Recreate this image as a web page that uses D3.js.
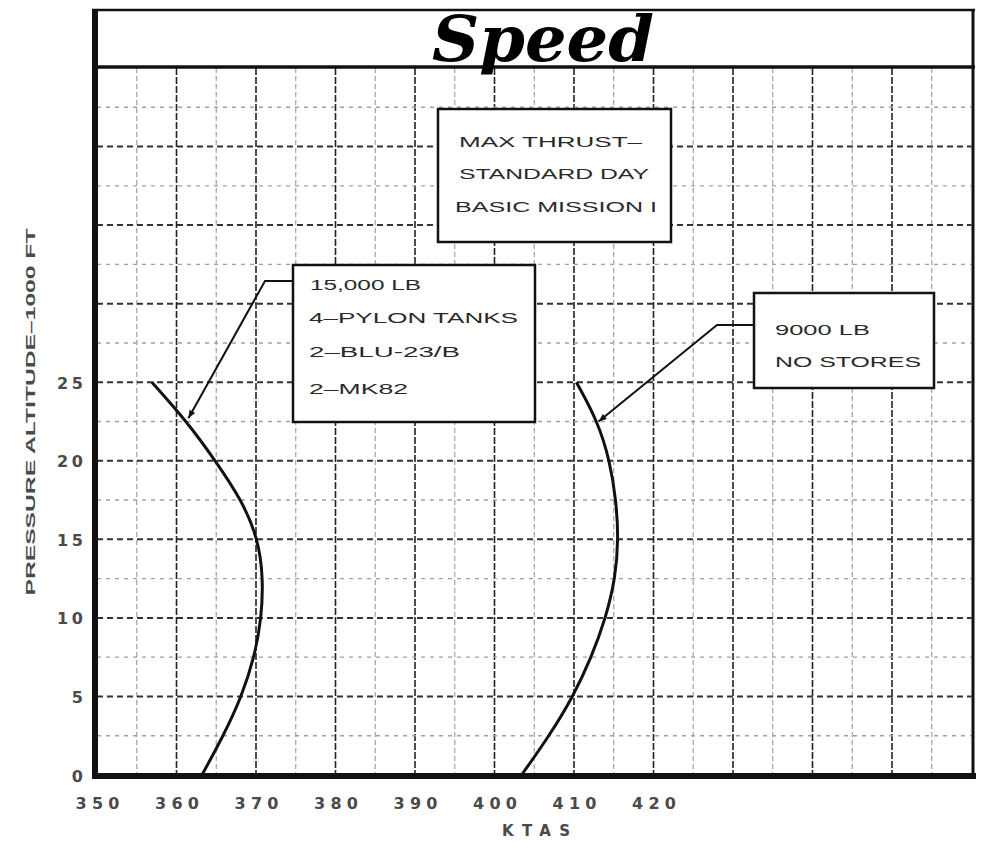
<!DOCTYPE html>
<html>
<head>
<meta charset="utf-8">
<script src="https://cdn.jsdelivr.net/npm/d3@7"></script>
<style>
  html, body { margin: 0; padding: 0; background: #fff; }
  svg { display: block; }
</style>
</head>
<body>
<div id="chart"></div>
<script>
// ---------- data ----------
const altitudes = [0, 2.5, 5, 7.5, 10, 12.5, 15, 17.5, 20, 22.5, 25];          // 1000 ft
const speed15000 = [363.2, 365.9, 368.2, 369.8, 370.7, 370.9, 370.3, 368.2, 364.9, 361.3, 356.9]; // KTAS
const speed9000  = [403.4, 406.9, 409.9, 412.2, 414.0, 415.2, 415.6, 415.3, 414.5, 413.0, 410.3]; // KTAS
const xTickValues = [350, 360, 370, 380, 390, 400, 410, 420];
const yTickValues = [0, 5, 10, 15, 20, 25];
const titleText = "Speed";
const xAxisTitle = "KTAS";
const yAxisTitle = "PRESSURE ALTITUDE–1000 FT";
const noteLines = ["MAX THRUST–", "STANDARD DAY", "BASIC MISSION I"];
const heavyLines = ["15,000 LB", "4–PYLON TANKS", "2–BLU-23/B", "2–MK82"];
const lightLines = ["9000 LB", "NO STORES"];

// ---------- layout ----------
const W = 987, H = 849;
const svg = d3.select("#chart").append("svg").attr("width", W).attr("height", H);
svg.append("rect").attr("width", W).attr("height", H).attr("fill", "#fff");

const x = d3.scaleLinear().domain([350, 460]).range([97, 971.5]);
const y = d3.scaleLinear().domain([0, 45]).range([775, 68]);

const ink = "#111";
const plotTop = 68, plotBottom = 775;

// grid lines
const vMinor = d3.range(355, 460, 10);
const vMajor = d3.range(360, 460, 10);
const hMinor = d3.range(2.5, 45, 5);
const hMajor = d3.range(5, 45, 5);

const grid = svg.append("g");
grid.selectAll(".vmin").data(vMinor).join("line")
  .attr("x1", d => x(d)).attr("x2", d => x(d))
  .attr("y1", plotTop).attr("y2", plotBottom)
  .attr("stroke", "#a0a0a0").attr("stroke-width", 1.2).attr("stroke-dasharray", "5,3");
grid.selectAll(".vmaj").data(vMajor).join("line")
  .attr("x1", d => x(d)).attr("x2", d => x(d))
  .attr("y1", plotTop).attr("y2", plotBottom)
  .attr("stroke", "#222").attr("stroke-width", 1.6).attr("stroke-dasharray", "7,2");
grid.selectAll(".hmin").data(hMinor).join("line")
  .attr("x1", x(350)).attr("x2", x(460))
  .attr("y1", d => y(d)).attr("y2", d => y(d))
  .attr("stroke", "#a0a0a0").attr("stroke-width", 1.4).attr("stroke-dasharray", "4,5");
grid.selectAll(".hmaj").data(hMajor).join("line")
  .attr("x1", x(350)).attr("x2", x(460))
  .attr("y1", d => y(d)).attr("y2", d => y(d))
  .attr("stroke", "#333").attr("stroke-width", 2).attr("stroke-dasharray", "6,4");

// curves
const line = d3.line()
  .x(d => x(d[0])).y(d => y(d[1]))
  .curve(d3.curveBasis);
const heavy = altitudes.map((a, i) => [speed15000[i], a]);
const light = altitudes.map((a, i) => [speed9000[i], a]);
svg.append("path").attr("d", line(heavy)).attr("fill", "none")
  .attr("stroke", ink).attr("stroke-width", 3);
svg.append("path").attr("d", line(light)).attr("fill", "none")
  .attr("stroke", ink).attr("stroke-width", 3);

// arrow marker
svg.append("defs").append("marker")
  .attr("id", "arrow").attr("viewBox", "0 0 10 10")
  .attr("refX", 10).attr("refY", 5)
  .attr("markerWidth", 11).attr("markerHeight", 8)
  .attr("markerUnits", "userSpaceOnUse")
  .attr("orient", "auto")
  .append("path").attr("d", "M0,1 L10,5 L0,9 Z").attr("fill", ink);

// boxes with text
function box(x0, y0, x1, y1) {
  svg.append("rect").attr("x", x0).attr("y", y0)
    .attr("width", x1 - x0).attr("height", y1 - y0)
    .attr("fill", "#fff").attr("stroke", ink).attr("stroke-width", 2.5);
}
function boxText(lines, xs, baselines, lengths) {
  lines.forEach((t, i) => {
    svg.append("text").attr("x", xs[i]).attr("y", baselines[i])
      .attr("font-family", "'Liberation Sans', Arial, sans-serif")
      .attr("font-size", 14).attr("fill", "#2a2a2a")
      .attr("textLength", lengths[i]).attr("lengthAdjust", "spacingAndGlyphs")
      .text(t);
  });
}

// leader lines
const tipHeavy = [x(361.5), y(22.7)];
svg.append("path")
  .attr("d", `M293,281 L265,281 L${tipHeavy[0]},${tipHeavy[1]}`)
  .attr("fill", "none").attr("stroke", ink).attr("stroke-width", 2)
  .attr("marker-end", "url(#arrow)");
const tipLight = [x(413.1), y(22.5)];
svg.append("path")
  .attr("d", `M754,325 L717,325 L${tipLight[0]},${tipLight[1]}`)
  .attr("fill", "none").attr("stroke", ink).attr("stroke-width", 2)
  .attr("marker-end", "url(#arrow)");

box(438, 109, 671, 242);
boxText(noteLines, [459, 459, 455], [147, 179, 212], [183, 190, 202]);

box(293, 265, 535, 422);
boxText(heavyLines, [310, 309, 309, 309], [290, 323, 357, 394], [111, 209, 151, 99]);

box(754, 293, 934, 388);
boxText(lightLines, [775, 775], [335, 367], [95, 146]);

// frame & title box
svg.append("line").attr("x1", 92).attr("x2", 975).attr("y1", 10).attr("y2", 10)
  .attr("stroke", ink).attr("stroke-width", 2.5);
svg.append("line").attr("x1", 92).attr("x2", 975).attr("y1", 67).attr("y2", 67)
  .attr("stroke", ink).attr("stroke-width", 3.5);
svg.append("line").attr("x1", 973).attr("x2", 973).attr("y1", 9).attr("y2", 779)
  .attr("stroke", ink).attr("stroke-width", 3);
svg.append("line").attr("x1", 95).attr("x2", 95).attr("y1", 9).attr("y2", 779)
  .attr("stroke", ink).attr("stroke-width", 6);
svg.append("line").attr("x1", 92).attr("x2", 976).attr("y1", 776).attr("y2", 776)
  .attr("stroke", ink).attr("stroke-width", 6);

// title
svg.append("text").attr("x", 432).attr("y", 61)
  .attr("font-family", "'DejaVu Serif', serif")
  .attr("font-style", "italic").attr("font-weight", "bold")
  .attr("font-size", 64).attr("fill", "#000")
  .attr("textLength", 222).attr("lengthAdjust", "spacingAndGlyphs")
  .text(titleText);

// axes (tick labels only, via d3 axes)
const labelFont = "'DejaVu Sans', 'Liberation Sans', sans-serif";
const xAxis = d3.axisBottom(x).tickValues(xTickValues).tickSize(0).tickPadding(0).tickFormat(d3.format("d"));
const gx = svg.append("g").attr("transform", "translate(0,809)").call(xAxis);
gx.select(".domain").remove();
gx.selectAll("text")
  .attr("dy", 0).attr("y", 0)
  .attr("font-family", labelFont)
  .attr("font-weight", "bold").attr("font-size", 16)
  .attr("textLength", 44).attr("lengthAdjust", "spacing")
  .attr("fill", "#4a4a4a");

const yAxis = d3.axisLeft(y).tickValues(yTickValues).tickSize(0).tickPadding(0).tickFormat(d3.format("d"));
const gy = svg.append("g").attr("transform", "translate(83,0)").call(yAxis);
gy.select(".domain").remove();
gy.selectAll("text")
  .attr("x", 0).attr("dy", "0.38em")
  .attr("font-family", labelFont)
  .attr("font-weight", "bold").attr("font-size", 16)
  .attr("textLength", d => d >= 10 ? 26 : null).attr("lengthAdjust", "spacing")
  .attr("fill", "#4a4a4a");

// axis titles
svg.append("text").attr("x", 536).attr("y", 836)
  .attr("text-anchor", "middle")
  .attr("font-family", labelFont)
  .attr("font-weight", "bold").attr("font-size", 15)
  .attr("textLength", 68).attr("lengthAdjust", "spacing")
  .attr("fill", "#4a4a4a")
  .text(xAxisTitle);

svg.append("text")
  .attr("transform", "translate(35,412) rotate(-90)")
  .attr("text-anchor", "middle")
  .attr("font-family", "'Liberation Sans', Arial, sans-serif")
  .attr("font-weight", "bold").attr("font-size", 13)
  .attr("textLength", 367).attr("lengthAdjust", "spacingAndGlyphs")
  .attr("fill", "#4a4a4a")
  .text(yAxisTitle);
</script>
</body>
</html>
